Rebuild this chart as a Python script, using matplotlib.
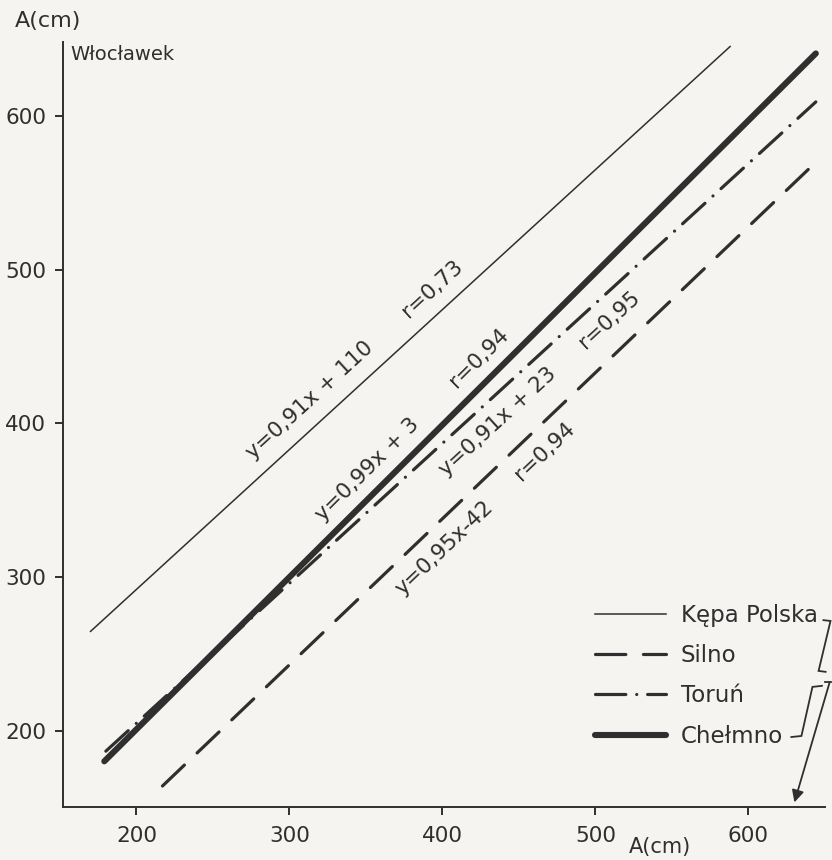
import numpy as np
import matplotlib.pyplot as plt

# regression of water levels at Włocławek on the other gauges
stations = ['Kępa Polska', 'Silno', 'Toruń', 'Chełmno']
slopes = [0.91, 0.95, 0.91, 0.99]
intercepts = [110, -42, 23, 3]
x_start = [170, 217, 180, 179]
x_end = [588, 645, 644, 644]
eq_text = ['y=0,91x + 110', 'y=0,95x-42', 'y=0,91x + 23', 'y=0,99x + 3']
r_text = ['r=0,73', 'r=0,94', 'r=0,95', 'r=0,94']
ticks = [200, 300, 400, 500, 600]

ink = '#2f2f2f'
paper = '#f5f4f0'

styles = [
    dict(lw=1.1, ls='-'),
    dict(lw=2.3, ls=(0, (9.5, 5.5)), dash_capstyle='round'),
    dict(lw=2.3, ls=(0, (9.5, 3.4, 0.01, 3.4)), dash_capstyle='round'),
    dict(lw=4.4, ls='-', solid_capstyle='round'),
]
# where the equation and r are written along each line
eq_x = [313, 401, 436, 351]
r_x = [393, 467, 509, 424]
shift = [20, -20, -19, 19.5]

plt.rcParams['font.family'] = 'DejaVu Sans'
fig = plt.figure(figsize=(8.32, 8.60), dpi=100, facecolor=paper)
ax = fig.add_axes([63 / 832, 1 - 807 / 860, 762 / 832, 765 / 860])
ax.set_facecolor(paper)
ax.set_xlim(152, 650)
ax.set_ylim(150.5, 648)

handles = []
for i, name in enumerate(stations):
    x = np.array([x_start[i], x_end[i]])
    y = slopes[i] * x + intercepts[i]
    ln, = ax.plot(x, y, color=ink, label=name, **styles[i])
    handles.append(ln)
    ang = np.degrees(np.arctan(slopes[i]))
    for tx, txt in [(eq_x[i], eq_text[i]), (r_x[i], r_text[i])]:
        ty = slopes[i] * tx + intercepts[i] + shift[i]
        ax.text(tx, ty, txt, rotation=ang, transform_rotates_text=True,
                rotation_mode='anchor', ha='center', va='center',
                fontsize=15.5, color=ink)

ax.spines['top'].set_visible(False)
ax.spines['right'].set_visible(False)
for s in ['left', 'bottom']:
    ax.spines[s].set_linewidth(1.4)
    ax.spines[s].set_color(ink)
ax.set_xticks(ticks)
ax.set_yticks(ticks)
ax.tick_params(direction='out', length=6, width=1.4, colors=ink,
               labelsize=15.5)
ax.tick_params(axis='x', pad=8)
ax.tick_params(axis='y', pad=6)

fig.text(48 / 832, 1 - 21 / 860, 'A(cm)', ha='center', va='center',
         fontsize=16, color=ink)
fig.text(70 / 832, 1 - 55 / 860, 'Włocławek', ha='left', va='center',
         fontsize=14, color=ink)
fig.text(660 / 832, 1 - 847 / 860, 'A(cm)', ha='center', va='center',
         fontsize=15, color=ink)

leg = ax.legend(handles=handles, loc='upper left', frameon=False,
                bbox_to_anchor=(595 / 832, 1 - 604 / 860),
                bbox_transform=fig.transFigure, fontsize=16.5,
                handlelength=3.1, handletextpad=0.65, labelspacing=0.75,
                borderpad=0, borderaxespad=0)
for t in leg.get_texts():
    t.set_color(ink)

# bracket and arrow pointing down to the x axis
kw = dict(color=ink, lw=1.3, clip_on=False, solid_joinstyle='miter')
ax.plot([649, 653.6, 645.8, 650.4], [272, 271.5, 239, 238.4], **kw)
ax.plot([628, 634.6, 641.8, 648], [196, 196.7, 228.6, 229.3], **kw)
ax.plot([649.7, 654.2], [231.9, 231.9], **kw)
ax.annotate('', xy=(630, 153.5), xytext=(653, 231.5),
            arrowprops=dict(arrowstyle='-|>', color=ink, lw=1.3,
                            mutation_scale=18, shrinkA=0, shrinkB=0),
            annotation_clip=False)

fig.savefig('out.png', dpi=100, facecolor=paper)
